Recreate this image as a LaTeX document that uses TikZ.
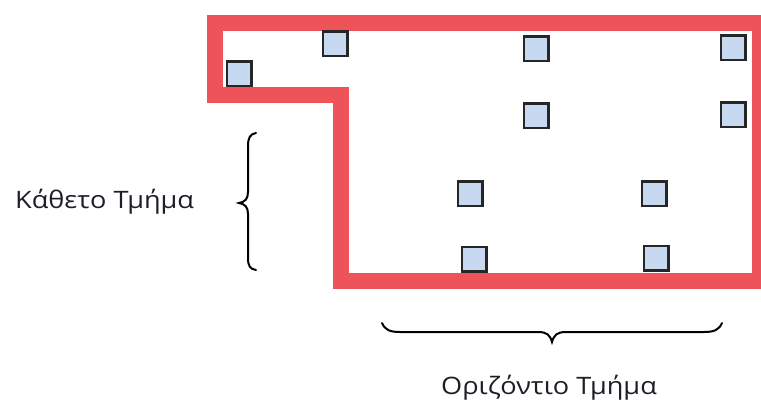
\documentclass[tikz,border=0pt]{standalone}
\usepackage{fontspec}
\setmainfont{Open Sans}[FakeStretch=1.13]
\definecolor{wallred}{RGB}{238,83,89}
\definecolor{boxblue}{RGB}{198,217,241}
\definecolor{txt}{RGB}{30,30,40}
\begin{document}
\begin{tikzpicture}[x=1pt,y=-1pt,
  sensor/.style={draw=black!85,line width=2.4pt,fill=boxblue,minimum size=24.6pt,inner sep=0pt,outer sep=0pt},
  wall/.style={draw=wallred,line width=16pt,line join=miter},
  bracestyle/.style={draw=black,line width=2pt,line cap=round},
  lbl/.style={font=\fontsize{24pt}{28pt}\selectfont,text=txt,inner sep=0pt}]
\useasboundingbox[fill=white] (0,0) rectangle (761,401);
% room outline
\draw[wall] (215,23) -- (760,23) -- (760,281) -- (341,281) -- (341,95.5) -- (215,95.5) -- cycle;
% sensors
\node[sensor] (s1) at (239,74) {};
\node[sensor] (s2) at (335,44) {};
\node[sensor] (s3) at (536,49) {};
\node[sensor] (s4) at (733,48) {};
\node[sensor] (s5) at (536,116) {};
\node[sensor] (s6) at (733,115) {};
\node[sensor] (s7) at (470,194) {};
\node[sensor] (s8) at (654,194) {};
\node[sensor] (s9) at (474,259) {};
\node[sensor] (s10) at (656,258) {};
% vertical brace
\coordinate (vb1) at (256,133);
\coordinate (vb2) at (256,270);
\draw[bracestyle] (vb1) .. controls (250,134) and (248,138) .. (248,146) -- (248,192)
  .. controls (248,199) and (245,202) .. (239,203)
  .. controls (245,204) and (248,207) .. (248,214) -- (248,258)
  .. controls (248,266) and (250,269) .. (vb2);
% horizontal brace
\coordinate (hb1) at (382,323);
\coordinate (hb2) at (722,323);
\draw[bracestyle] (hb1) .. controls (385,330) and (390,332) .. (400,332) -- (538,332)
  .. controls (547,332) and (550,335) .. (552,342)
  .. controls (554,335) and (557,332) .. (566,332) -- (704,332)
  .. controls (714,332) and (719,330) .. (hb2);
% labels
\node[lbl,anchor=base west] (kath) at (15,208) {Κάθετο Τμήμα};
\node[lbl,anchor=base] (oriz) at (549,394) {Οριζόντιο Τμήμα};
\end{tikzpicture}
\end{document}
